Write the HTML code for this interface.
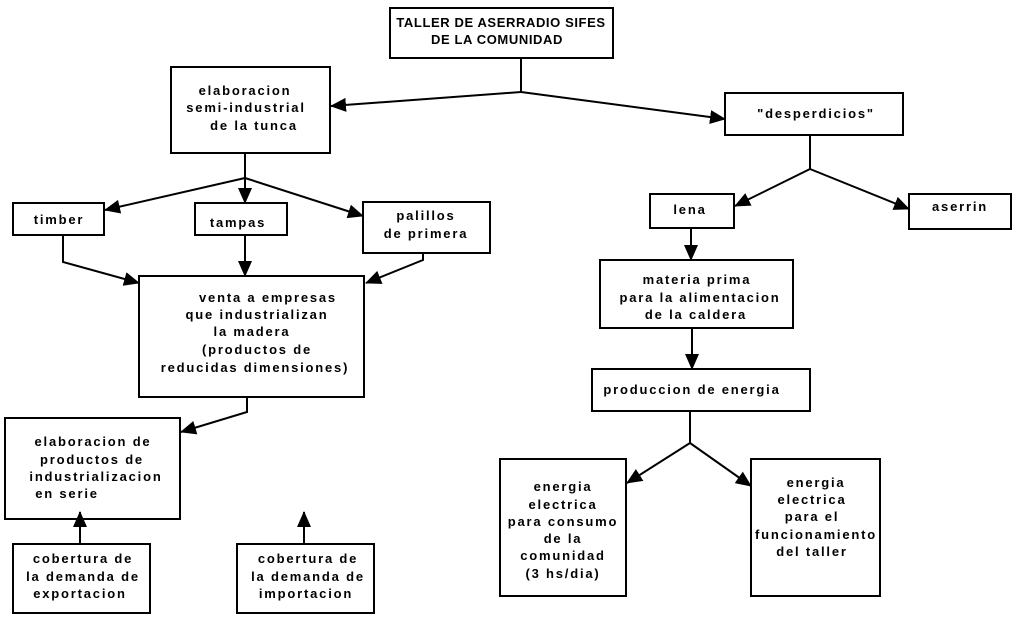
<!DOCTYPE html>
<html><head><meta charset="utf-8"><style>
body{margin:0;background:#fff}
svg text{font-family:"Liberation Sans",Arial,sans-serif;font-weight:bold;font-size:13px;fill:#000;letter-spacing:1.8px}
svg text.t{letter-spacing:0.6px}
</style></head><body>
<svg width="1017" height="621" viewBox="0 0 1017 621" xmlns="http://www.w3.org/2000/svg">
<defs>
<marker id="b" markerWidth="16" markerHeight="16" refX="15" refY="8" orient="auto" markerUnits="userSpaceOnUse"><path d="M0,1 L16,8 L0,15 z" fill="#000"/></marker></defs>
<g fill="none" stroke="#000" stroke-width="2">
<rect x="390" y="8" width="223" height="50"/>
<rect x="171" y="67" width="159" height="86"/>
<rect x="725" y="93" width="178" height="42"/>
<rect x="13" y="203" width="91" height="32"/>
<rect x="195" y="203" width="92" height="32"/>
<rect x="363" y="202" width="127" height="51"/>
<rect x="650" y="194" width="84" height="34"/>
<rect x="909" y="194" width="102" height="35"/>
<rect x="600" y="260" width="193" height="68"/>
<rect x="592" y="369" width="218" height="42"/>
<rect x="139" y="276" width="225" height="121"/>
<rect x="5" y="418" width="175" height="101"/>
<rect x="500" y="459" width="126" height="137"/>
<rect x="751" y="459" width="129" height="137"/>
<rect x="13" y="544" width="137" height="69"/>
<rect x="237" y="544" width="137" height="69"/>
</g>
<g fill="none" stroke="#000" stroke-width="2">
<path d="M521,58 V92"/>
<path d="M521,92 L331,106" marker-end="url(#b)"/>
<path d="M521,92 L725,119" marker-end="url(#b)"/>
<path d="M245,153 V178"/>
<path d="M245,178 L105,210" marker-end="url(#b)"/>
<path d="M245,178 V203" marker-end="url(#b)"/>
<path d="M245,178 L363,216" marker-end="url(#b)"/>
<path d="M63,235 V262 L139,283" marker-end="url(#b)"/>
<path d="M245,235 V276" marker-end="url(#b)"/>
<path d="M423,253 V260 L366,283" marker-end="url(#b)"/>
<path d="M810,135 V169"/>
<path d="M810,169 L735,206" marker-end="url(#b)"/>
<path d="M810,169 L909,209" marker-end="url(#b)"/>
<path d="M691,228 V260" marker-end="url(#b)"/>
<path d="M692,328 V369" marker-end="url(#b)"/>
<path d="M690,411 V443"/>
<path d="M690,443 L627,483" marker-end="url(#b)"/>
<path d="M690,443 L751,486" marker-end="url(#b)"/>
<path d="M247,397 V412 L181,432" marker-end="url(#b)"/>
<path d="M80,544 V512" marker-end="url(#b)"/>
<path d="M304,544 V512" marker-end="url(#b)"/>
</g>
<g text-anchor="middle">
<text class="t" x="501" y="27">TALLER DE ASERRADIO SIFES</text>
<text class="t" x="497" y="44">DE LA COMUNIDAD</text>
<text x="245" y="95">elaboracion</text>
<text x="246" y="112">semi-industrial</text>
<text x="254" y="130">de la tunca</text>
<text x="816" y="118">"desperdicios"</text>
<text x="59" y="224">timber</text>
<text x="238" y="227">tampas</text>
<text x="426" y="220">palillos</text>
<text x="426" y="238">de  primera</text>
<text x="690" y="214">lena</text>
<text x="960" y="211">aserrin</text>
<text x="697" y="284">materia prima</text>
<text x="700" y="302">para  la  alimentacion</text>
<text x="696" y="319">de la caldera</text>
<text x="692" y="394">produccion  de  energia</text>
<text x="268" y="302">venta a empresas</text>
<text x="257" y="319">que industrializan</text>
<text x="252" y="336">la madera</text>
<text x="257" y="354">(productos de</text>
<text x="255" y="372">reducidas  dimensiones)</text>
<text x="93" y="446">elaboracion de</text>
<text x="92" y="464">productos de</text>
<text x="96" y="481">industrializacion</text>
<text x="67" y="498">en serie</text>
<text x="563" y="491">energia</text>
<text x="563" y="509">electrica</text>
<text x="563" y="526">para consumo</text>
<text x="563" y="543">de la</text>
<text x="563" y="560">comunidad</text>
<text x="563" y="578">(3  hs/dia)</text>
<text x="816" y="487">energia</text>
<text x="812" y="504">electrica</text>
<text x="812" y="521">para el</text>
<text x="816" y="539">funcionamiento</text>
<text x="812" y="556">del taller</text>
<text x="83" y="563">cobertura  de</text>
<text x="83" y="581">la demanda de</text>
<text x="80" y="598">exportacion</text>
<text x="308" y="563">cobertura  de</text>
<text x="308" y="581">la demanda de</text>
<text x="306" y="598">importacion</text>
</g>
</svg>
</body></html>
